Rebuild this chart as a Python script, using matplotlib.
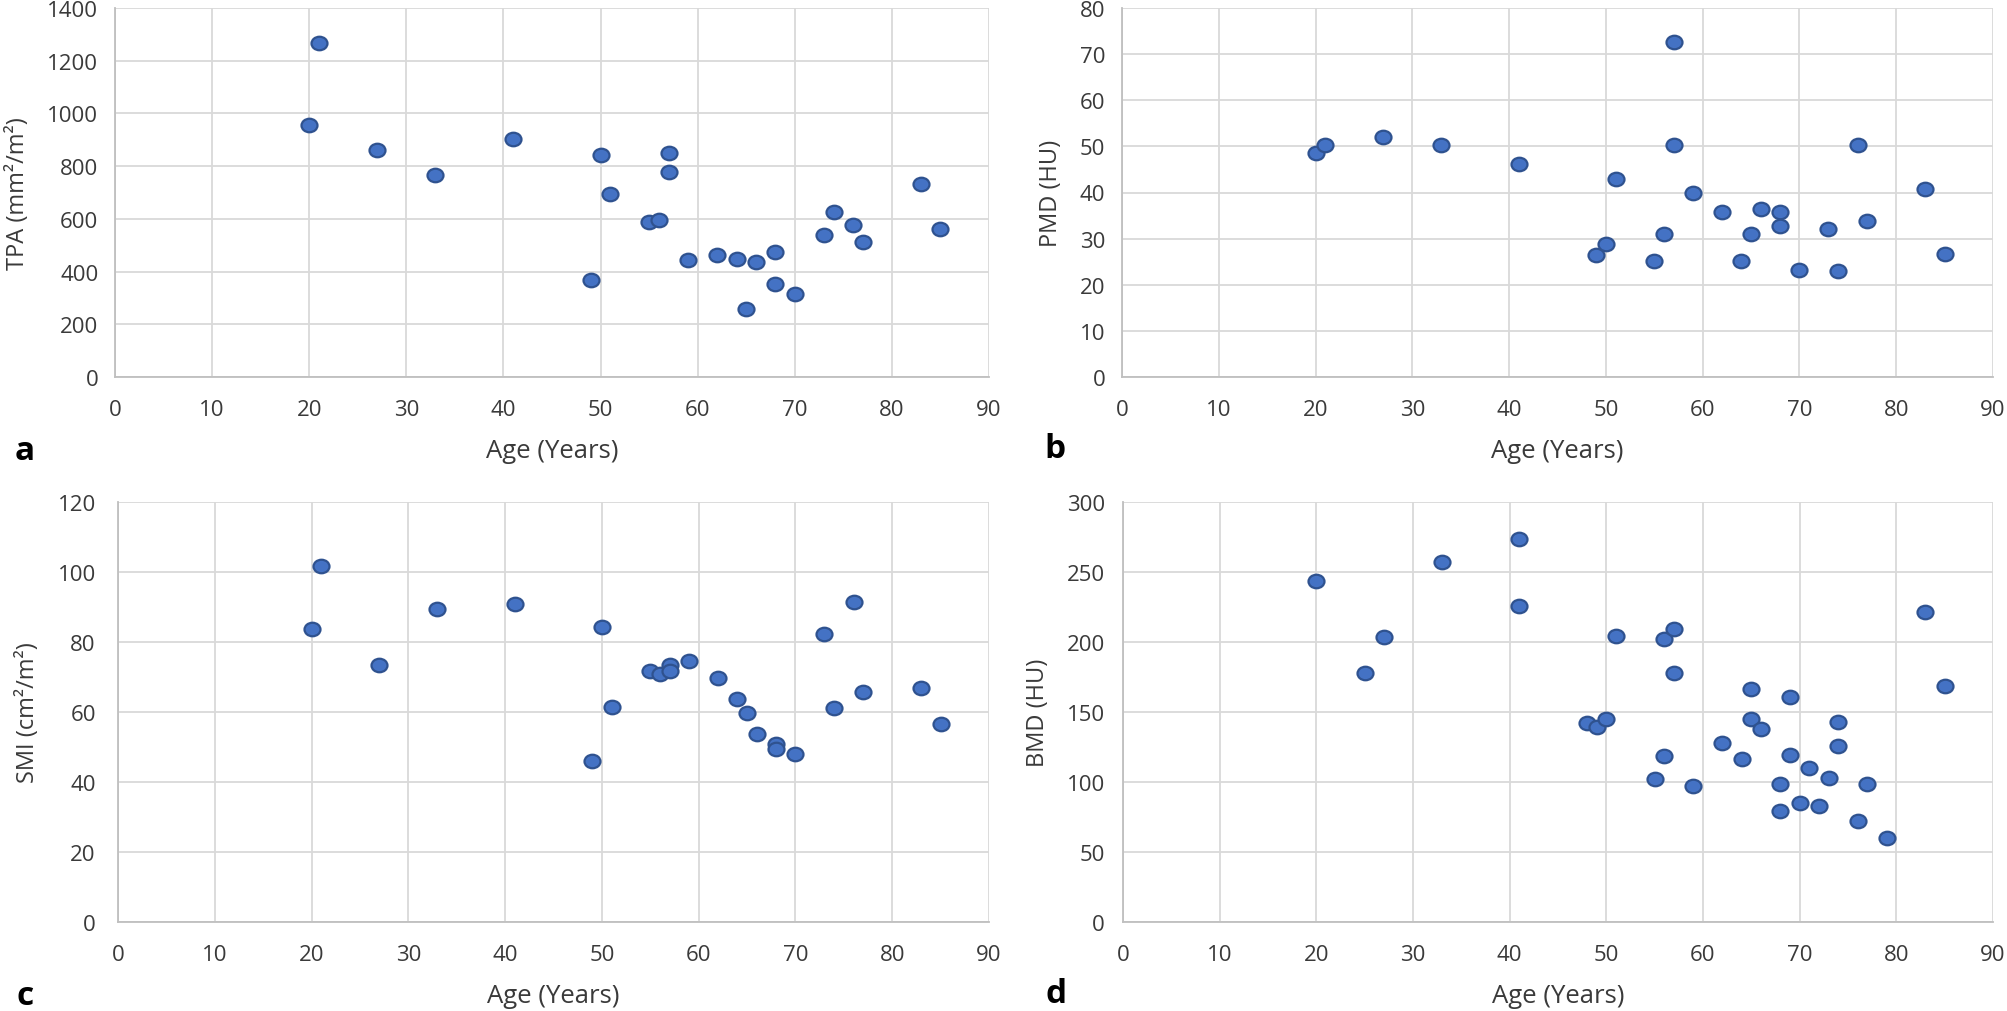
import numpy as np
import matplotlib
matplotlib.use("Agg")
import matplotlib.pyplot as plt
from matplotlib.path import Path
from matplotlib.transforms import Affine2D

plt.rcParams['font.family'] = ['Open Sans', 'DejaVu Sans']

# (a) TPA vs age
age_a = [20, 21, 27, 33, 41, 49, 50, 51, 55, 56, 57, 57, 59, 62, 64, 65, 66,
         68, 68, 70, 73, 74, 76, 77, 83, 85]
tpa = [955, 1267, 860, 765, 904, 367, 841, 696, 588, 596, 850, 778, 443, 462,
       449, 259, 436, 474, 354, 316, 537, 626, 575, 512, 734, 563]

# (b) PMD vs age
age_b = [20, 21, 27, 33, 41, 49, 50, 51, 55, 56, 57, 57, 59, 62, 64, 65, 66,
         68, 68, 70, 73, 74, 76, 77, 83, 85]
pmd = [48.6, 50.2, 52.0, 50.4, 46.2, 26.5, 28.8, 42.9, 25.1, 30.9, 72.6, 50.2,
       40.0, 35.7, 25.1, 30.9, 36.4, 35.7, 32.7, 23.3, 32.1, 23.0, 50.2, 33.9,
       40.7, 26.6]

# (c) SMI vs age
age_c = [20, 21, 27, 33, 41, 49, 50, 51, 55, 56, 57, 57, 59, 62, 64, 65, 66,
         68, 68, 70, 73, 74, 76, 77, 83, 85]
smi = [83.8, 101.7, 73.3, 89.5, 91.0, 46.0, 84.3, 61.3, 71.7, 70.8, 73.3, 71.7,
       74.6, 69.8, 63.7, 59.8, 53.6, 50.8, 49.3, 47.9, 82.4, 61.2, 91.4, 65.6,
       67.0, 56.5]

# (d) BMD vs age
age_d = [20, 25, 27, 33, 41, 41, 48, 49, 50, 51, 55, 56, 56, 57, 57, 59, 62,
         64, 65, 65, 66, 68, 68, 69, 69, 70, 71, 72, 73, 74, 74, 76, 77, 79,
         83, 85]
bmd = [243.8, 178.1, 203.3, 256.9, 273.8, 226.0, 142.4, 139.5, 145.2, 204.3,
       101.9, 201.9, 118.6, 209.3, 178.1, 97.1, 128.1, 116.2, 166.2, 145.0,
       137.6, 98.3, 79.3, 160.5, 119.5, 85.2, 110.2, 82.9, 103.1, 142.6, 125.7,
       72.1, 98.3, 60.2, 221.2, 168.6]

# 少し横長の楕円マーカー
ellipse = Affine2D().scale(1.18, 1.0).transform_path(Path.unit_circle())

W, H = 2008, 1012
fig = plt.figure(figsize=(W / 100, H / 100), dpi=100)

# (x, y, ylabel, ymax, ystep, letter, [left, right, top, bottom] px, ylabel_x px, ytick pad, letter pos)
panels = [
    (age_a, tpa, "TPA (mm²/m²)", 1400, 200, "a", [115, 989, 9, 378], 18, 12, (25, 452)),
    (age_b, pmd, "PMD (HU)", 80, 10, "b", [1122, 1993, 9, 378], 1051, 12, (1055, 450)),
    (age_c, smi, "SMI (cm²/m²)", 120, 20, "c", [118, 989, 503, 923], 28, 16, (25, 997)),
    (age_d, bmd, "BMD (HU)", 300, 50, "d", [1123, 1993, 503, 923], 1038, 13, (1056, 995)),
]

grid_col = "#D9D9D9"
text_col = "#3A3A3A"

for x, y, ylab, ymax, ystep, letter, box, ylx, ypad, lpos in panels:
    l, r, t, b = box
    ax = fig.add_axes([l / W, (H - b) / H, (r - l) / W, (b - t) / H])
    ax.plot(x, y, linestyle="none", marker=ellipse, markersize=11.5,
            markerfacecolor="#4472C4", markeredgecolor="#2F528F",
            markeredgewidth=1.6, zorder=3)
    ax.set_xlim(0, 90)
    ax.set_ylim(0, ymax)
    ax.set_xticks(np.arange(0, 91, 10))
    ax.set_yticks(np.arange(0, ymax + 1, ystep))
    ax.grid(True, color=grid_col, linewidth=1.3)
    ax.set_axisbelow(True)
    for s in ["top", "right"]:
        ax.spines[s].set_visible(False)
    for s in ["left", "bottom"]:
        ax.spines[s].set_color("#BFBFBF")
        ax.spines[s].set_linewidth(1.3)
    ax.tick_params(axis="both", length=0, labelsize=16, labelcolor=text_col)
    ax.tick_params(axis="x", pad=16)
    ax.tick_params(axis="y", pad=ypad)
    ax.set_xlabel("Age (Years)", fontsize=18.5, color=text_col, va="center")
    ax.xaxis.set_label_coords(0.5, -74 / (b - t))
    ax.set_ylabel(ylab, fontsize=17, color=text_col, va="center")
    ax.yaxis.set_label_coords(-(l - ylx) / (r - l), 0.5)
    fig.text(lpos[0] / W, (H - lpos[1]) / H, letter, fontsize=24,
             fontweight="bold", ha="center", va="center", color="black")

plt.savefig("out.png", dpi=100)
